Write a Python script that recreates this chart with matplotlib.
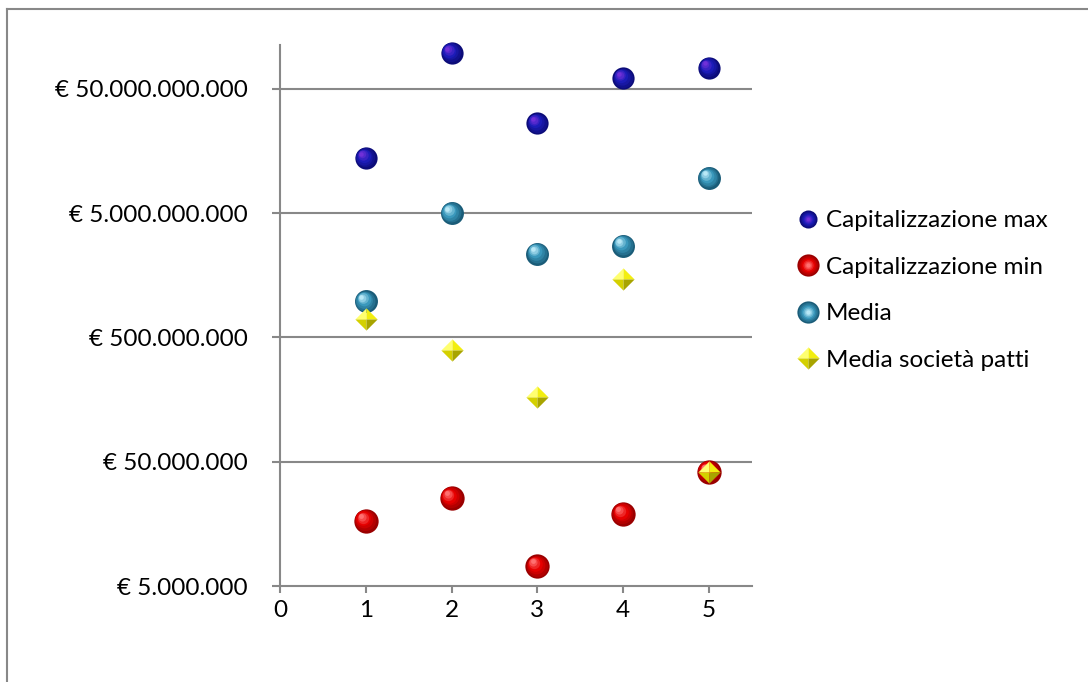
import numpy as np
import matplotlib
matplotlib.use("Agg")
import matplotlib.pyplot as plt
from matplotlib.colors import to_rgb
from matplotlib.lines import Line2D
from matplotlib.path import Path
from matplotlib.transforms import ScaledTranslation
from matplotlib.legend_handler import HandlerTuple

plt.rcParams['font.family'] = ['Lato', 'DejaVu Sans']

# data
x_vals = [1, 2, 3, 4, 5]
cap_max = [1.39e10, 9.75e10, 2.65e10, 6.1e10, 7.4e10]
cap_min = [1.67e7, 2.55e7, 7.2e6, 1.9e7, 4.15e7]
media = [9.75e8, 5.0e9, 2.37e9, 2.75e9, 9.6e9]
media_patti = [7.1e8, 3.93e8, 1.67e8, 1.47e9, 4.1e7]

series_names = ['Capitalizzazione max', 'Capitalizzazione min', 'Media', 'Media società patti']
y_ticks = [5e6, 5e7, 5e8, 5e9, 5e10]
y_tick_labels = ['€ 5.000.000', '€ 50.000.000', '€ 500.000.000',
                 '€ 5.000.000.000', '€ 50.000.000.000']
x_ticks = [0, 1, 2, 3, 4, 5]

grid_col = '#888888'
fs = 17.5

fig = plt.figure(figsize=(10.88, 6.82), dpi=100)
ax = fig.add_axes([280 / 1088, 1 - 586 / 682, (752 - 280) / 1088, (586 - 45) / 682])


def mix(c1, c2, t):
    a, b = np.array(to_rgb(c1)), np.array(to_rgb(c2))
    return tuple(a + (b - a) * t)


def sphere_layers(dark, mid, light, n=7):
    cols = []
    for i in range(n):
        t = i / (n - 1)
        if t < 0.5:
            cols.append(mix(dark, mid, t * 2))
        else:
            cols.append(mix(mid, light, (t - 0.5) * 2))
    return cols


def draw_sphere(xs, ys, dark, mid, light, ms, z):
    cols = sphere_layers(dark, mid, light)
    n = len(cols)
    for i, c in enumerate(cols):
        t = i / (n - 1)
        size = ms * (1 - 0.8 * t)
        off = ms * 0.2 * t / 72
        tr = ax.transData + ScaledTranslation(-off, off, fig.dpi_scale_trans)
        ax.plot(xs, ys, 'o', ms=size, color=c, mec='none', transform=tr,
                zorder=z + i * 0.01, clip_on=False)


# octahedron-like diamond facets
facets = [
    (Path([(0, 0), (-1, 0), (0, 1), (0, 0)]), '#ffff70'),
    (Path([(0, 0), (0, 1), (1, 0), (0, 0)]), '#f2ee10'),
    (Path([(0, 0), (-1, 0), (0, -1), (0, 0)]), '#d4d000'),
    (Path([(0, 0), (1, 0), (0, -1), (0, 0)]), '#a8a400'),
]


def draw_diamond(xs, ys, ms, z):
    for p, c in facets:
        ax.plot(xs, ys, marker=p, ms=ms, color=c, mec='none', ls='none',
                zorder=z, clip_on=False)


blue = ('#0c0c78', '#1c1cb8', '#7030d8')
red = ('#9a0000', '#e60000', '#ff7070')
teal = ('#1a5c78', '#3a98bc', '#b8e8f6')

draw_sphere(x_vals, cap_max, *blue, ms=16, z=3)
draw_sphere(x_vals, cap_min, *red, ms=17.5, z=4)
draw_sphere(x_vals, media, *teal, ms=16.5, z=5)
draw_diamond(x_vals, media_patti, ms=16, z=6)

ax.set_yscale('log')
ax.set_ylim(5e6, 1.13e11)
ax.set_xlim(0, 5.5)
ax.set_yticks(y_ticks)
ax.set_yticklabels(y_tick_labels)
ax.yaxis.set_minor_locator(matplotlib.ticker.NullLocator())
ax.set_xticks(x_ticks)
ax.set_xticklabels([str(v) for v in x_ticks])

for v in y_ticks[1:]:
    ax.axhline(v, color=grid_col, lw=1.5, zorder=1)

for side in ['top', 'right']:
    ax.spines[side].set_visible(False)
for side in ['left', 'bottom']:
    ax.spines[side].set_color(grid_col)
    ax.spines[side].set_linewidth(1.5)

ax.tick_params(axis='y', length=6, width=1.5, color=grid_col, pad=17, labelsize=fs)
ax.tick_params(axis='x', length=5, width=1.5, color=grid_col, pad=5, labelsize=fs)


# legend with layered handles
def sphere_handle(dark, mid, light, ms):
    cols = sphere_layers(dark, mid, light)
    n = len(cols)
    return tuple(Line2D([], [], marker='o', ls='none', color=c, mec='none',
                        ms=ms * (1 - 0.8 * i / (n - 1))) for i, c in enumerate(cols))


diamond_handle = tuple(Line2D([], [], marker=p, ls='none', color=c, mec='none', ms=16)
                       for p, c in facets)
handles = [sphere_handle(*blue, 13), sphere_handle(*red, 16),
           sphere_handle(*teal, 16), diamond_handle]
fig.legend(handles, series_names, handler_map={tuple: HandlerTuple(ndivide=1, pad=0)},
           loc='center left', bbox_to_anchor=(797 / 1088, 1 - 290.5 / 682),
           frameon=False, fontsize=fs, handlelength=0.9, handletextpad=0.3,
           labelspacing=1.05, borderpad=0, borderaxespad=0)

# chart area border (top and left visible)
fig.add_artist(Line2D([7 / 1088, 1], [1 - 9 / 682, 1 - 9 / 682], color=grid_col, lw=1.5))
fig.add_artist(Line2D([7 / 1088, 7 / 1088], [0, 1 - 9 / 682], color=grid_col, lw=1.5))

fig.savefig('out.png', dpi=100)
